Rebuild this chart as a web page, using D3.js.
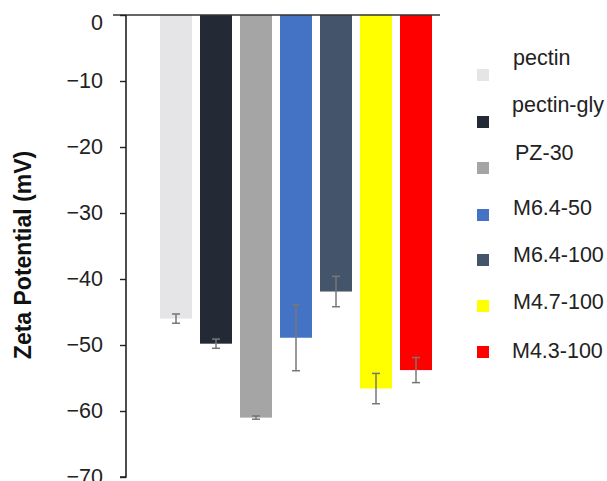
<!DOCTYPE html>
<html>
<head>
<meta charset="utf-8">
<script src="https://cdn.jsdelivr.net/npm/d3@7"></script>
<style>
  html, body { margin: 0; padding: 0; background: #fff; }
  svg { display: block; font-family: "Liberation Sans", Arial, sans-serif; }
</style>
</head>
<body>
<svg id="chart" width="607" height="481"></svg>
<script>
// ---- data ----
const categories = ["pectin", "pectin-gly", "PZ-30", "M6.4-50", "M6.4-100", "M4.7-100", "M4.3-100"];
const values = [-46.0, -49.8, -61.0, -48.9, -41.9, -56.6, -53.8];
const errors = [0.7, 0.7, 0.25, 5.0, 2.3, 2.3, 1.9];
const colors = ["#e5e4e6", "#232a35", "#a5a5a5", "#4472c4", "#44546a", "#ffff00", "#ff0000"];
const tickValues = [0, -10, -20, -30, -40, -50, -60, -70];
const yTitle = "Zeta Potential (mV)";

// ---- layout ----
const svg = d3.select("#chart");
const x = d3.scaleBand().domain(categories).range([156, 436]).paddingInner(0.2).paddingOuter(0.1);
const y = d3.scaleLinear().domain([-70, 0]).range([477, 15]);

// bars (hang down from 0)
svg.append("g").selectAll("rect").data(categories).join("rect")
  .attr("x", d => x(d))
  .attr("width", x.bandwidth())
  .attr("y", y(0))
  .attr("height", (d, i) => y(values[i]) - y(0))
  .attr("fill", (d, i) => colors[i]);

// error bars
const eb = svg.append("g").attr("stroke", "#777").attr("stroke-width", 1.5).attr("fill", "none");
categories.forEach((c, i) => {
  const cx = x(c) + x.bandwidth() / 2;
  const y1 = y(values[i] + errors[i]), y2 = y(values[i] - errors[i]);
  eb.append("line").attr("x1", cx).attr("x2", cx).attr("y1", y1).attr("y2", y2);
  eb.append("line").attr("x1", cx - 4).attr("x2", cx + 4).attr("y1", y1).attr("y2", y1);
  eb.append("line").attr("x1", cx - 4).attr("x2", cx + 4).attr("y1", y2).attr("y2", y2);
});

// top zero line
svg.append("line")
  .attr("x1", 113).attr("x2", 440)
  .attr("y1", y(0)).attr("y2", y(0))
  .attr("stroke", "#333").attr("stroke-width", 1.6);

// y axis
const yAxis = d3.axisLeft(y).tickValues(tickValues).tickSize(6).tickPadding(17)
  .tickFormat(d => d3.format("")(d).replace("-", "\u2212"));
const gy = svg.append("g").attr("transform", "translate(126,0)").call(yAxis);
gy.select(".domain").attr("stroke", "#222").attr("stroke-width", 1.6).attr("d", `M-6,${y(-70)}H0V${y(0)}`);
gy.selectAll(".tick line").attr("stroke", "#222").attr("stroke-width", 1.4);
gy.selectAll(".tick text").attr("font-size", 21.5).attr("fill", "#222")
  .attr("font-family", "'Liberation Sans', Arial, sans-serif")
  .attr("dy", d => d === 0 ? "0.68em" : "0.32em");

// y title
svg.append("text")
  .attr("transform", `translate(31,255) rotate(-90)`)
  .attr("text-anchor", "middle")
  .attr("font-weight", "bold")
  .attr("font-size", 23)
  .attr("fill", "#111")
  .text(yTitle);

// legend
const legY = [75, 122, 168, 215, 260, 306, 352];
const legTextDy = [-10, -10, -8, 0, 2, 3, 6];
const legTextX = [513, 512, 515, 513, 513, 513, 512];
const leg = svg.append("g");
categories.forEach((c, i) => {
  leg.append("rect").attr("x", 477).attr("y", legY[i] - 6).attr("width", 12).attr("height", 12).attr("fill", colors[i]);
  leg.append("text").attr("x", legTextX[i]).attr("y", legY[i] + legTextDy[i])
    .attr("font-size", 21.5).attr("fill", "#222").text(c);
});
</script>
</body>
</html>
